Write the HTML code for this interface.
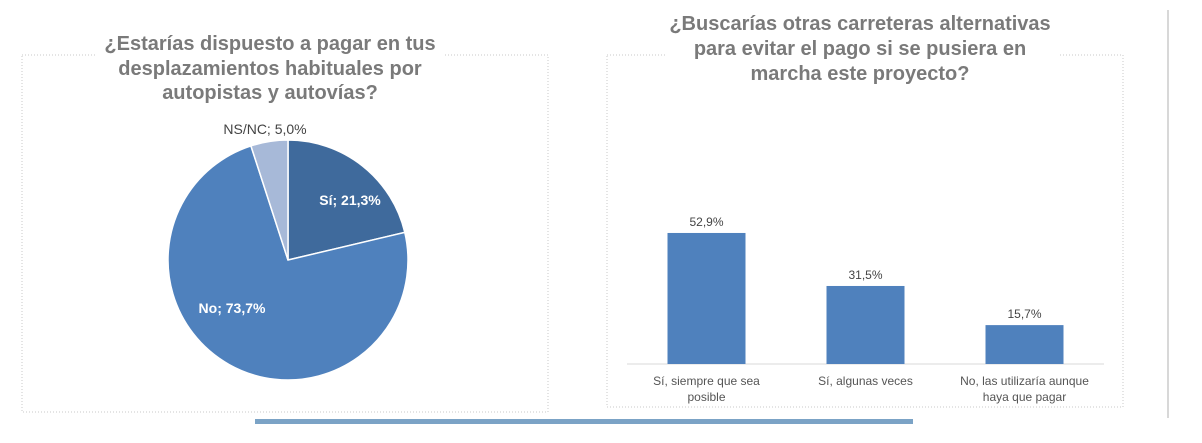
<!DOCTYPE html>
<html><head><meta charset="utf-8"><style>
body{margin:0;width:1202px;height:443px;background:#fff;overflow:hidden;font-family:"Liberation Sans",sans-serif}
svg{display:block}
</style></head><body>
<svg width="1202" height="443">
<rect x="22" y="55" width="526" height="357" fill="none" stroke="#c8c8c8" stroke-dasharray="1,2"/>
<rect x="95" y="20" width="350" height="80" fill="#fff"/>
<g font-weight="bold" font-size="20" fill="#7a7a7a" text-anchor="middle">
<text x="270" y="50">¿Estarías dispuesto a pagar en tus</text>
<text x="270" y="75">desplazamientos habituales por</text>
<text x="270" y="99">autopistas y autovías?</text>
</g>
<g id="pie"></g>
<rect x="607" y="55" width="516" height="352" fill="none" stroke="#c8c8c8" stroke-dasharray="1,2"/>
<rect x="665" y="10" width="395" height="90" fill="#fff"/>
<g font-weight="bold" font-size="20" fill="#7a7a7a" text-anchor="middle">
<text x="860" y="30">¿Buscarías otras carreteras alternativas</text>
<text x="860" y="55">para evitar el pago si se pusiera en</text>
<text x="860" y="80">marcha este proyecto?</text>
</g>
<g id="bars"></g>
<rect x="255" y="419" width="658" height="5" fill="#7ba3c6"/>
<rect x="1167" y="10" width="2" height="408" fill="#d8d8d8"/>
</svg>
<script>
const pieLabels=["Sí","No","NS/NC"];
const pieValues=[21.3,73.7,5.0];
const pieColors=["#3f6a9c","#4f81bd","#a7b9d8"];
const barCategories=[["Sí, siempre que sea","posible"],["Sí, algunas veces"],["No, las utilizaría aunque","haya que pagar"]];
const barValues=[52.9,31.5,15.7];
const barLabels=["52,9%","31,5%","15,7%"];
const NS="http://www.w3.org/2000/svg";
function mk(t,a,p){const e=document.createElementNS(NS,t);for(const k in a)e.setAttribute(k,a[k]);p.appendChild(e);return e;}
// pie
const pie=document.getElementById('pie');
const cx=288,cy=260,r=120;
const tot=pieValues.reduce((a,b)=>a+b,0);
let ang=0;
const labelPos=[[350,205,"#fff","bold"],[232,313,"#fff","bold"],[265,134,"#444","normal"]];
pieValues.forEach((v,i)=>{
 const a0=ang/tot*2*Math.PI, a1=(ang+v)/tot*2*Math.PI; ang+=v;
 const x0=cx+r*Math.sin(a0),y0=cy-r*Math.cos(a0),x1=cx+r*Math.sin(a1),y1=cy-r*Math.cos(a1);
 const p=mk('path',{d:`M${cx},${cy}L${x0},${y0}A${r},${r} 0 ${a1-a0>Math.PI?1:0} 1 ${x1},${y1}Z`,fill:pieColors[i],stroke:"#fff","stroke-width":1.5},pie);
 
 
 const lp=labelPos[i];
 const t=mk('text',{x:lp[0],y:lp[1],"text-anchor":"middle","font-size":14,fill:lp[2],"font-weight":lp[3]},pie);
 t.textContent=pieLabels[i]+"; "+v.toFixed(1).replace('.',',')+"%";
 
 
});
// bars
const bars=document.getElementById('bars');
const base=364, pxPer=2.477, x0=627, slot=159, bw=78;
const axis=mk('line',{x1:x0,y1:base,x2:x0+3*slot,y2:base,stroke:"#d9d9d9"},bars);


barValues.forEach((v,i)=>{
 const cxb=x0+slot*i+slot/2, h=v*pxPer;
 const b=mk('rect',{x:cxb-bw/2,y:base-h,width:bw,height:h,fill:"#4f81bd"},bars);
 
 
 const t=mk('text',{x:cxb,y:base-h-7,"text-anchor":"middle","font-size":12,fill:"#444"},bars);
 t.textContent=barLabels[i];
 
 
 barCategories[i].forEach((ln,j)=>{
  const c=mk('text',{x:cxb,y:base+21+j*16,"text-anchor":"middle","font-size":12,fill:"#555"},bars);
  c.textContent=ln;
  
  
 });
});
</script>
</body></html>
